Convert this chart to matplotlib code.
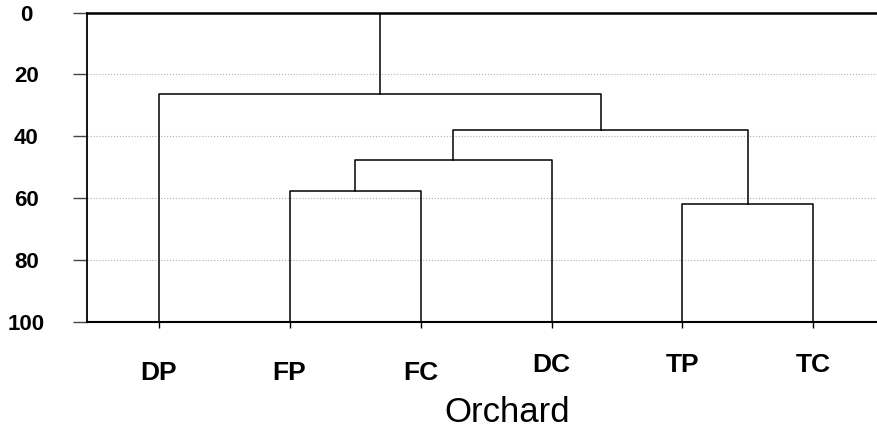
import matplotlib
matplotlib.use("Agg")
import matplotlib.pyplot as plt

plt.rcParams['font.family'] = ['Liberation Sans', 'DejaVu Sans']

# leaves of the dendrogram, left to right
orchards = ["DP", "FP", "FC", "DC", "TP", "TC"]

# merges: node ids 0-5 are leaves, each merge makes a new node (6, 7, ...)
merge_a = [1, 6, 4, 7, 0]
merge_b = [2, 3, 5, 8, 9]
merge_height = [57.6, 47.6, 61.8, 38.1, 26.3]
root_top = 0

yticks = [0, 20, 40, 60, 80, 100]

fig = plt.figure(figsize=(8.78, 4.28), dpi=100)
ax = fig.add_axes([0.0994, 0.2488, 0.9006, 0.7215])

# node positions
node_x = list(range(len(orchards)))
node_h = [100] * len(orchards)

for a, b, h in zip(merge_a, merge_b, merge_height):
    xa, xb = node_x[a], node_x[b]
    ax.plot([xa, xa, xb, xb], [node_h[a], h, h, node_h[b]], color="black", lw=1.1)
    node_x.append((xa + xb) / 2)
    node_h.append(h)

# stem of the root
ax.plot([node_x[-1], node_x[-1]], [node_h[-1], root_top], color="black", lw=1.1)

ax.set_ylim(100, 0)
ax.set_xlim(-0.545, 5.493)

ax.set_yticks(yticks)
ax.set_yticklabels([str(t) for t in yticks], fontsize=16, fontweight="bold")
for lab in ax.get_yticklabels():
    lab.set_horizontalalignment("center")
ax.tick_params(axis="y", length=10, width=1, color="#444444", pad=34)

ax.set_xticks(range(len(orchards)))
ax.set_xticklabels(orchards, fontsize=19, fontweight="bold")
ax.tick_params(axis="x", length=4.3, width=1, color="black")
for i, tick in enumerate(ax.xaxis.get_major_ticks()):
    tick.set_pad(24 if i < 3 else 18.4)

ax.yaxis.grid(True, linestyle=":", color="#b0b0b0", lw=0.8)
ax.set_axisbelow(True)

ax.set_xlabel("Orchard", fontsize=25)
ax.xaxis.set_label_coords(0.531, -0.24)

ax.spines["right"].set_visible(False)
ax.spines["top"].set_linewidth(1.8)
ax.spines["left"].set_linewidth(1.3)
ax.spines["bottom"].set_linewidth(1.5)

fig.savefig("out.png", dpi=100)
